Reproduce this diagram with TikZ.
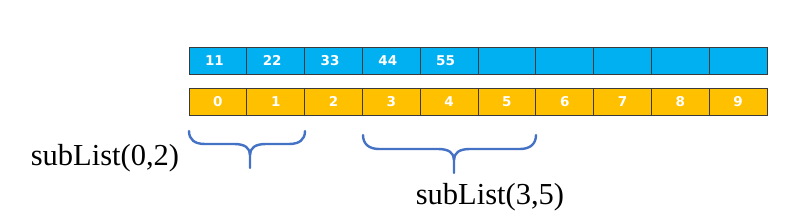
\documentclass[tikz,border=0pt]{standalone}
\usepackage{fontspec}
\setmainfont{Liberation Serif}
\newfontfamily\cellfont{DejaVu Sans}
\definecolor{cellblue}{HTML}{00B0F0}
\definecolor{cellorange}{HTML}{FFC000}
\definecolor{bracecol}{HTML}{4472C4}
\definecolor{edgecol}{HTML}{3A3A3A}
\begin{document}
\begin{tikzpicture}[x=1pt,y=-1pt,
  cellbox/.style={draw=edgecol,line width=0.9pt,minimum width=57.8pt,minimum height=27pt,inner sep=0pt,
    text height=9.8pt,text depth=0pt,
    text=white,font=\cellfont\bfseries\fontsize{13.5}{15}\selectfont},
  topcell/.style={cellbox,fill=cellblue},
  botcell/.style={cellbox,fill=cellorange},
  bracestyle/.style={draw=bracecol,line width=2.4pt,line cap=round,line join=round},
  lbl/.style={font=\fontsize{30.5}{36}\selectfont,inner sep=0pt,anchor=base}]
\useasboundingbox (0,0) rectangle (804,224);
\foreach \i/\v in {0/11,1/22,2/33,3/44,4/55,5/,6/,7/,8/,9/} {
  \node[topcell] (t\i) at ({189+57.8*\i+28.9},60.5) {\hspace*{-7pt}\v};
}
\foreach \i in {0,...,9} {
  \node[botcell] (b\i) at ({189+57.8*\i+28.9},102) {\i};
}
% brace 1
\coordinate (a1) at (189,131);
\coordinate (a2) at (305,131);
\coordinate (a3) at (250,168);
\draw[bracestyle] (a1) .. controls (189,140) and (195,144) .. (205,144) -- (234,144)
  .. controls (245,144) and (250,148) .. (250,155);
\draw[bracestyle] (a2) .. controls (305,140) and (299,144) .. (289,144) -- (266,144)
  .. controls (255,144) and (250,148) .. (250,155) -- (a3);
% brace 2
\coordinate (c1) at (363,135);
\coordinate (c2) at (536,135);
\coordinate (c3) at (454,173);
\draw[bracestyle] (c1) .. controls (363,144) and (369,149) .. (379,149) -- (438,149)
  .. controls (449,149) and (454,153) .. (454,160);
\draw[bracestyle] (c2) .. controls (536,144) and (530,149) .. (520,149) -- (470,149)
  .. controls (459,149) and (454,153) .. (454,160) -- (c3);
\node[lbl] (s1) at (105,166) {subList(0,2)};
\node[lbl] (s2) at (490,205) {subList(3,5)};
\end{tikzpicture}
\end{document}
